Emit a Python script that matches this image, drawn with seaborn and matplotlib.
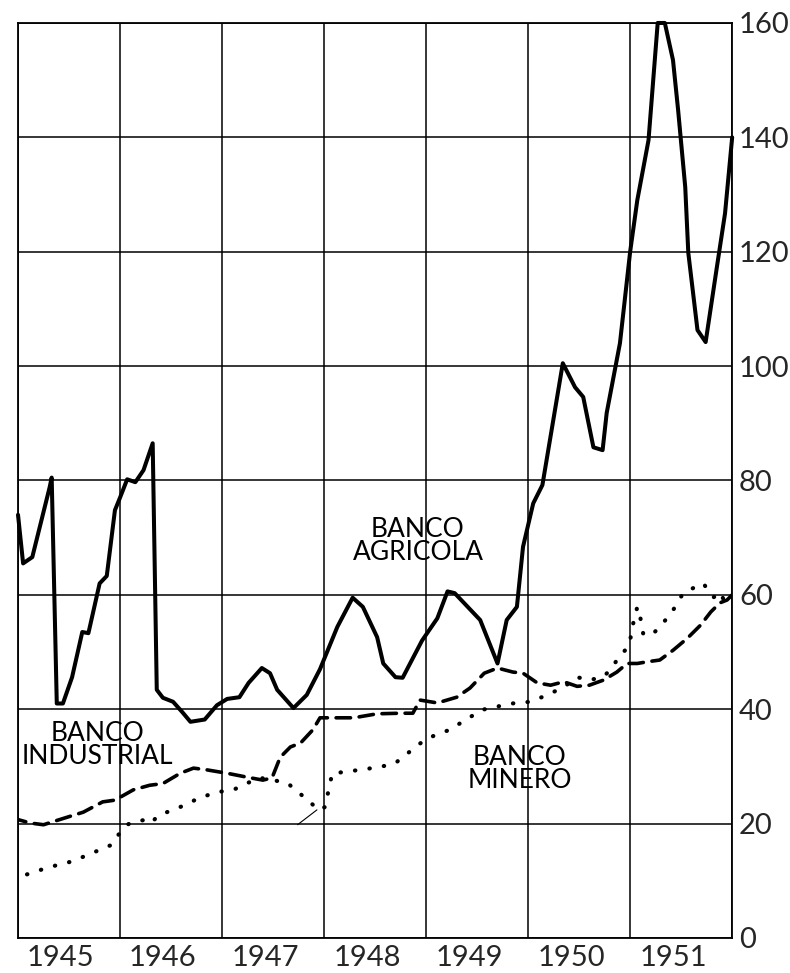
import numpy as np
import pandas as pd
import matplotlib
matplotlib.use('Agg')
import matplotlib.pyplot as plt
import seaborn as sns

# Banco Agricola (solid)
agri_t = [1945.00, 1945.05, 1945.14, 1945.31, 1945.33, 1945.38, 1945.44, 1945.53, 1945.63, 1945.69,
          1945.80, 1945.87, 1945.95, 1946.00, 1946.07, 1946.15, 1946.23, 1946.32, 1946.36, 1946.42,
          1946.52, 1946.61, 1946.69, 1946.83, 1946.95, 1947.05, 1947.17, 1947.26, 1947.39, 1947.47,
          1947.54, 1947.70, 1947.83, 1947.96, 1948.13, 1948.28, 1948.38, 1948.52, 1948.58, 1948.70,
          1948.77, 1948.96, 1949.11, 1949.21, 1949.28, 1949.53, 1949.70, 1949.79, 1949.89, 1949.95,
          1950.05, 1950.14, 1950.34, 1950.46, 1950.54, 1950.64, 1950.73, 1950.77, 1950.90, 1951.00,
          1951.07, 1951.18, 1951.27, 1951.34, 1951.42, 1951.47, 1951.54, 1951.57, 1951.66, 1951.74,
          1951.85, 1951.93, 1952.00]
agri_v = [74.0, 65.5, 66.6, 78.8, 80.5, 41.0, 41.0, 45.6, 53.5, 53.3,
          62.0, 63.3, 74.8, 77.0, 80.2, 79.7, 81.8, 86.5, 43.4, 42.0,
          41.3, 39.5, 37.8, 38.2, 40.7, 41.8, 42.1, 44.6, 47.2, 46.3,
          43.4, 40.2, 42.5, 47.0, 54.4, 59.5, 57.9, 52.6, 48.0, 45.6,
          45.5, 52.0, 55.9, 60.6, 60.3, 55.6, 48.0, 55.6, 57.9, 68.4,
          76.0, 79.2, 100.5, 96.3, 94.6, 85.8, 85.3, 91.8, 104.0, 120.0,
          129.0, 139.5, 160.0, 160.0, 153.5, 144.8, 131.3, 119.8, 106.3, 104.2,
          117.3, 126.7, 140.0]

# Banco Industrial (dashed)
ind_t = [1944.94, 1945.12, 1945.25, 1945.39, 1945.64, 1945.83, 1945.95, 1946.13, 1946.29, 1946.42,
         1946.59, 1946.72, 1946.85, 1947.05, 1947.25, 1947.40, 1947.49, 1947.57, 1947.67, 1947.77,
         1947.89, 1947.96, 1948.09, 1948.29, 1948.52, 1948.75, 1948.87, 1948.94, 1949.11, 1949.30,
         1949.43, 1949.57, 1949.70, 1949.85, 1949.95, 1950.09, 1950.22, 1950.35, 1950.48, 1950.60,
         1950.74, 1950.87, 1950.97, 1951.07, 1951.17, 1951.29, 1951.42, 1951.56, 1951.69, 1951.79,
         1951.88, 1951.95, 1952.00]
ind_v = [21.0, 20.1, 19.8, 20.6, 22.0, 23.8, 24.1, 25.9, 26.7, 27.0,
         28.8, 29.7, 29.4, 28.8, 28.1, 27.6, 28.0, 31.6, 33.4, 34.1,
         36.4, 38.5, 38.5, 38.5, 39.2, 39.3, 39.3, 41.6, 41.1, 42.1,
         43.7, 46.3, 47.2, 46.5, 46.3, 44.6, 44.2, 44.8, 44.0, 44.2,
         45.1, 46.5, 48.0, 48.0, 48.3, 48.6, 50.3, 52.4, 54.7, 57.0,
         58.6, 59.1, 60.0]

# Banco Minero (dotted)
min_t = [1944.95, 1945.02, 1945.15, 1945.31, 1945.51, 1945.64, 1945.80, 1945.92, 1945.97, 1946.02,
         1946.07, 1946.13, 1946.23, 1946.31, 1946.36, 1946.46, 1946.59, 1946.78, 1946.95, 1947.11,
         1947.25, 1947.37, 1947.50, 1947.64, 1947.76, 1947.89, 1947.94, 1948.01, 1948.04, 1948.08,
         1948.19, 1948.35, 1948.55, 1948.70, 1948.94, 1949.04, 1949.23, 1949.42, 1949.55, 1949.68,
         1949.84, 1950.02, 1950.19, 1950.35, 1950.48, 1950.60, 1950.73, 1950.81, 1950.87, 1950.95,
         1951.00, 1951.03, 1951.07, 1951.10, 1951.13, 1951.23, 1951.32, 1951.42, 1951.52, 1951.62,
         1951.72, 1951.76, 1951.82, 1951.88, 1951.91]
min_v = [10.5, 10.7, 11.5, 12.4, 13.3, 14.2, 15.4, 16.3, 17.7, 18.9,
         19.8, 20.3, 20.6, 20.1, 21.2, 22.0, 22.9, 24.5, 25.5, 25.9,
         27.1, 28.0, 27.6, 27.1, 25.3, 23.3, 22.4, 22.9, 25.5, 28.8,
         29.0, 29.4, 29.9, 30.6, 34.0, 35.1, 36.4, 38.5, 39.9, 40.4,
         41.0, 41.3, 42.5, 43.9, 45.6, 45.1, 45.6, 46.9, 48.6, 50.3,
         52.1, 55.0, 57.9, 56.0, 53.0, 53.3, 55.0, 57.3, 60.3, 61.2,
         62.0, 60.8, 59.6, 60.5, 59.4]

# thin connecting stroke near 1947.8
link_t = [1947.74, 1947.93]
link_v = [19.8, 22.4]

years = [1945, 1946, 1947, 1948, 1949, 1950, 1951]
yticks = [0, 20, 40, 60, 80, 100, 120, 140, 160]

labels = [("BANCO\nAGRICOLA", 1948.92, 69.5),
          ("BANCO\nINDUSTRIAL", 1945.78, 33.7),
          ("BANCO\nMINERO", 1949.92, 29.5)]

sns.set_theme(style='white')
plt.rcParams['font.family'] = ['Lato', 'DejaVu Sans']

fig = plt.figure(figsize=(7.9, 9.73), dpi=100)
ax = fig.add_axes([0.0228, 0.036, 0.904, 0.9404])

for t, v, ls, lw, clip in [(agri_t, agri_v, '-', 2.9, False),
                           (ind_t, ind_v, (0, (4.0, 2.4)), 2.6, True),
                           (min_t, min_v, (0, (0.1, 3.4)), 3.0, True),
                           (link_t, link_v, '-', 0.8, True)]:
    df = pd.DataFrame({'year': t, 'value': v})
    sns.lineplot(data=df, x='year', y='value', ax=ax, color='black', linewidth=lw,
                 linestyle=ls, estimator=None, sort=False, dash_capstyle='round',
                 solid_capstyle='round', zorder=3, clip_on=clip)

ax.set_xlim(1945, 1952)
ax.set_ylim(0, 160)
ax.set_xticks(years + [1952])
ax.set_xticklabels([])
ax.set_xticks([y + 0.42 for y in years], minor=True)
ax.set_xticklabels([str(y) for y in years], minor=True, fontsize=21)
ax.tick_params(axis='x', which='both', length=0, pad=5)
ax.yaxis.tick_right()
ax.set_yticks(yticks)
ax.set_yticklabels([str(y) for y in yticks], fontsize=21)
ax.tick_params(axis='y', length=0, pad=5)
ax.grid(True, which='major', color='black', linewidth=1.1)
for s in ax.spines.values():
    s.set_color('black')
    s.set_linewidth(1.3)
ax.set_xlabel('')
ax.set_ylabel('')

for txt, x, y in labels:
    ax.text(x, y, txt, ha='center', va='center', fontsize=19, linespacing=0.9,
            color='black', zorder=4)

fig.savefig('out.png', dpi=100)
